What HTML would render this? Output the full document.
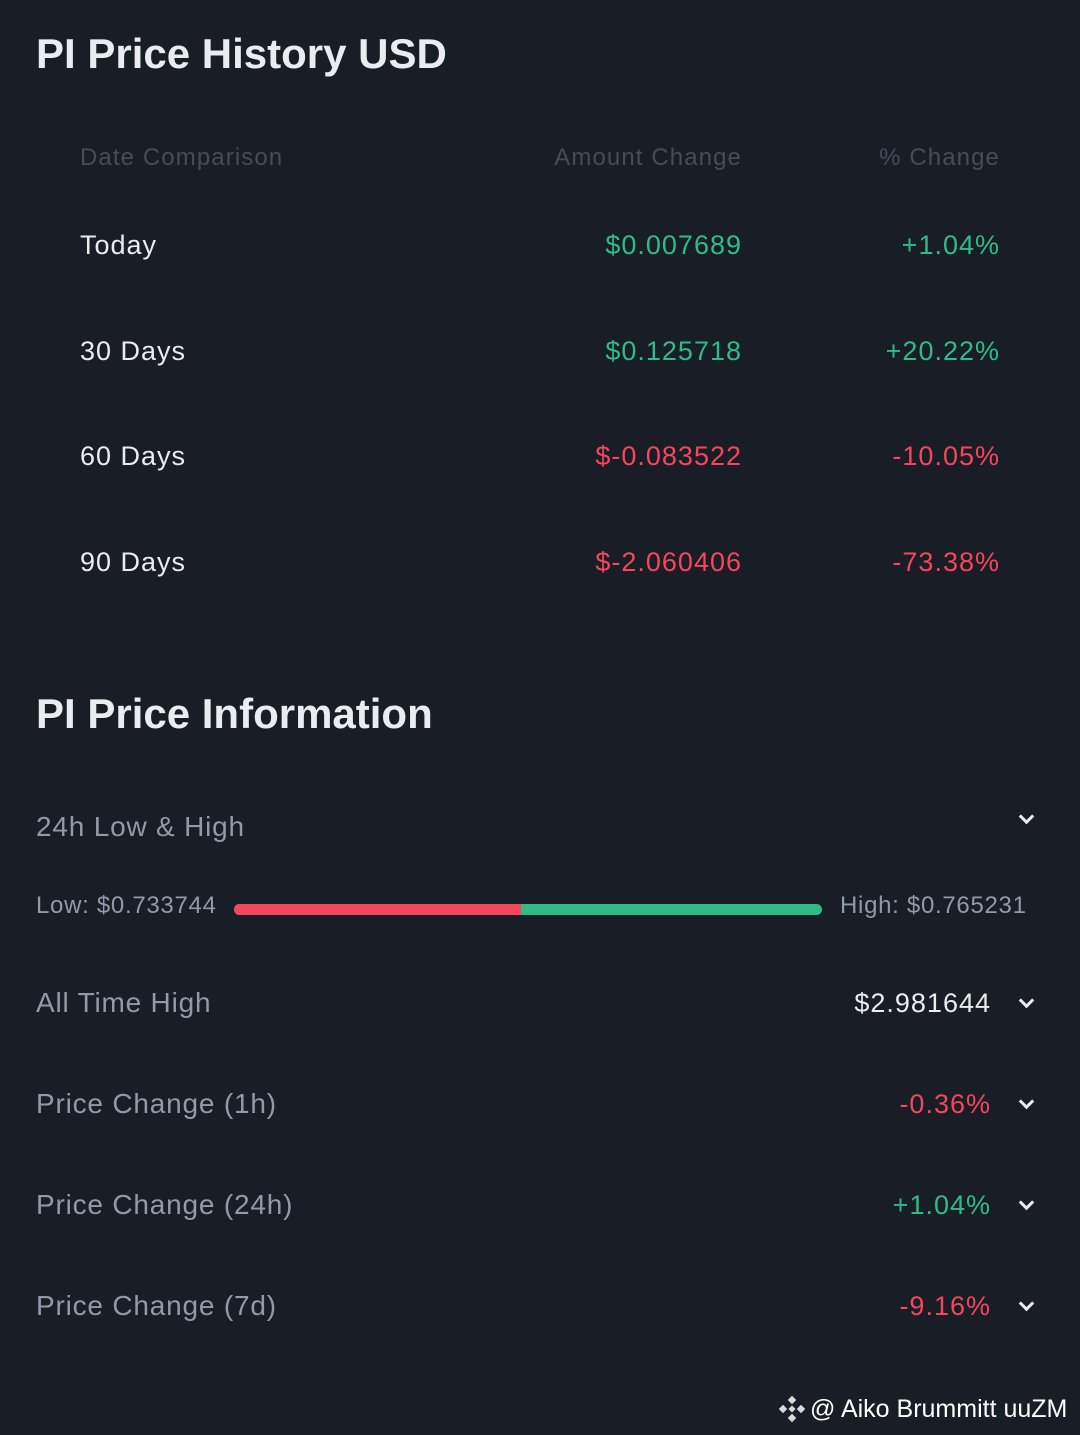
<!DOCTYPE html>
<html><head><meta charset="utf-8"><style>
*{margin:0;padding:0;box-sizing:border-box}
body{width:1080px;height:1435px;background:#181d26;font-family:"Liberation Sans",sans-serif;position:relative;overflow:hidden;color:#eaecef}
.t{position:absolute;white-space:nowrap;line-height:40px;height:40px}
.r{text-align:right}
.h1{font-size:42px;font-weight:bold;color:#eaecef;line-height:60px;height:60px}
.hd{font-size:24px;color:#474d57;letter-spacing:1.1px}
.row{font-size:27px;letter-spacing:1px}
.g{color:#2ebd85}.red{color:#f6465d}
.lab{font-size:28px;color:#929aa5;letter-spacing:0.8px}
.chev{position:absolute;width:11px;height:11px;border-right:3px solid #eaecef;border-bottom:3px solid #eaecef;transform:rotate(45deg)}
</style></head><body>
<div class="t h1" style="left:36px;top:24px">PI Price History USD</div>
<div class="t hd" style="left:80px;top:138px">Date Comparison</div>
<div class="t hd r" style="right:338px;top:138px">Amount Change</div>
<div class="t hd r" style="right:80px;top:138px">% Change</div>

<div class="t row" style="left:80px;top:225px">Today</div>
<div class="t row r g" style="right:338px;top:225px">$0.007689</div>
<div class="t row r g" style="right:80px;top:225px">+1.04%</div>

<div class="t row" style="left:80px;top:331px">30 Days</div>
<div class="t row r g" style="right:338px;top:331px">$0.125718</div>
<div class="t row r g" style="right:80px;top:331px">+20.22%</div>

<div class="t row" style="left:80px;top:436px">60 Days</div>
<div class="t row r red" style="right:338px;top:436px">$-0.083522</div>
<div class="t row r red" style="right:80px;top:436px">-10.05%</div>

<div class="t row" style="left:80px;top:542px">90 Days</div>
<div class="t row r red" style="right:338px;top:542px">$-2.060406</div>
<div class="t row r red" style="right:80px;top:542px">-73.38%</div>

<div class="t h1" style="left:36px;top:684px">PI Price Information</div>

<div class="t lab" style="left:36px;top:807px">24h Low &amp; High</div>
<div class="chev" style="left:1021px;top:811px"></div>
<div class="t" style="left:36px;top:886px;font-size:24px;color:#929aa5;letter-spacing:0.7px">Low: $0.733744</div>
<div style="position:absolute;left:234px;top:904px;width:588px;height:11px;border-radius:6px;background:#2ebd85;overflow:hidden">
<div style="width:287px;height:11px;background:#f6465d"></div></div>
<div class="t" style="left:840px;top:886px;font-size:24px;color:#929aa5;letter-spacing:0.7px">High: $0.765231</div>

<div class="t lab" style="left:36px;top:983px">All Time High</div>
<div class="t r row" style="right:89px;top:983px;color:#eaecef">$2.981644</div>
<div class="chev" style="left:1021px;top:995px"></div>

<div class="t lab" style="left:36px;top:1084px">Price Change (1h)</div>
<div class="t r row red" style="right:89px;top:1084px">-0.36%</div>
<div class="chev" style="left:1021px;top:1096px"></div>

<div class="t lab" style="left:36px;top:1185px">Price Change (24h)</div>
<div class="t r row g" style="right:89px;top:1185px">+1.04%</div>
<div class="chev" style="left:1021px;top:1197px"></div>

<div class="t lab" style="left:36px;top:1286px">Price Change (7d)</div>
<div class="t r row red" style="right:89px;top:1286px">-9.16%</div>
<div class="chev" style="left:1021px;top:1298px"></div>

<svg style="position:absolute;left:778px;top:1395px" width="28" height="28" viewBox="0 0 28 28">
<g fill="#d8dade"><rect x="11" y="2" width="6" height="6" transform="rotate(45 14 5)"/><rect x="11" y="20" width="6" height="6" transform="rotate(45 14 23)"/><rect x="2" y="11" width="6" height="6" transform="rotate(45 5 14)"/><rect x="20" y="11" width="6" height="6" transform="rotate(45 23 14)"/><rect x="11.5" y="11.5" width="5" height="5" transform="rotate(45 14 14)"/></g></svg>
<div class="t" style="left:810px;top:1389px;font-size:25px;color:#fff">@ Aiko Brummitt uuZM</div>
</body></html>
